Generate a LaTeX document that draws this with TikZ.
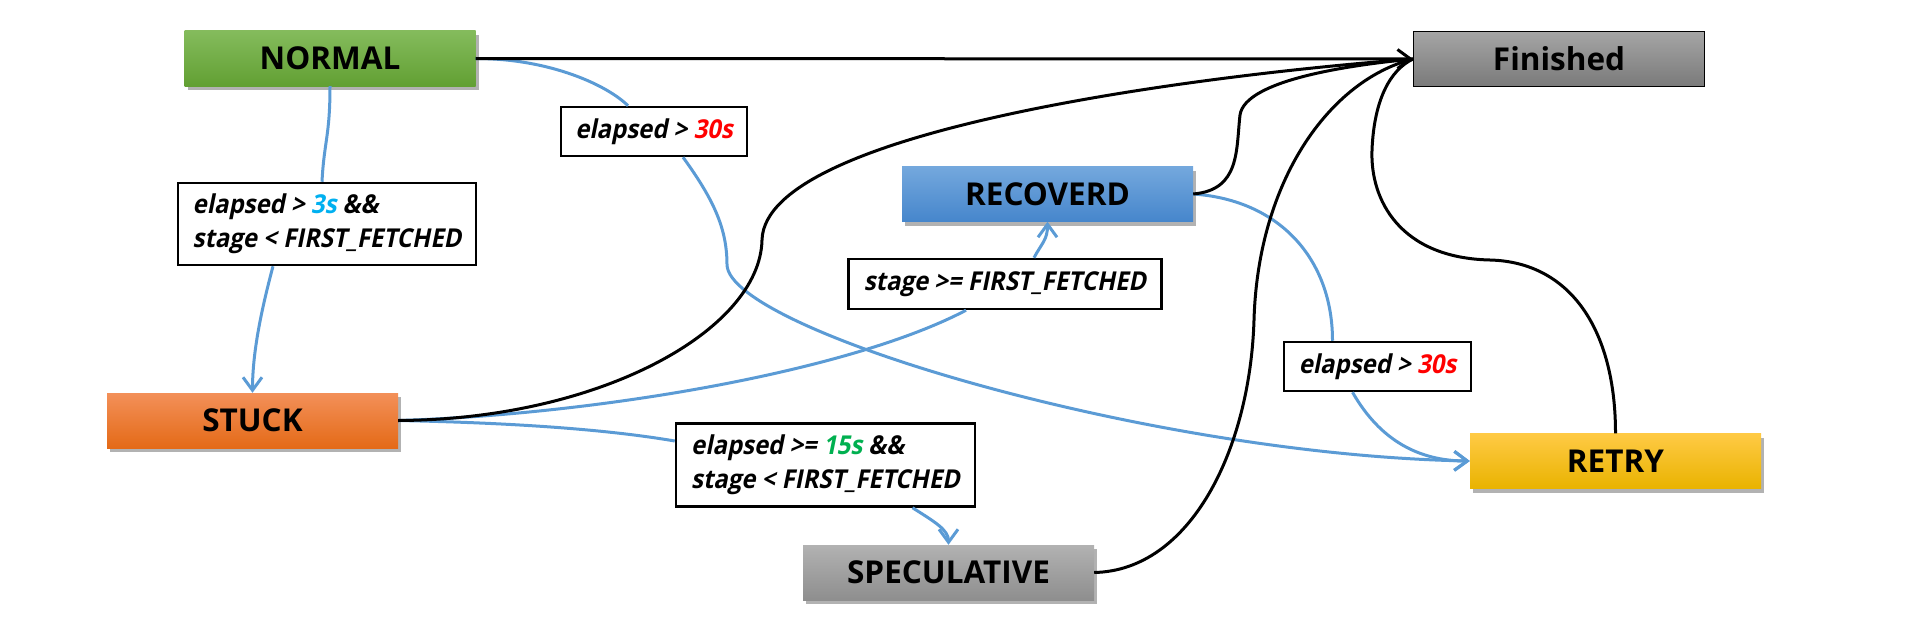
\documentclass[tikz,border=0pt]{standalone}
\usepackage{fontspec}
\setmainfont{Open Sans}
\newfontfamily\lblfont{Open Sans}[FakeSlant=0.2,FakeStretch=0.92]
\usetikzlibrary{arrows.meta,shadows}
\definecolor{cblue}{HTML}{5B9BD5}
\definecolor{ccyan}{HTML}{00B0F0}
\definecolor{cred}{HTML}{FF0000}
\definecolor{cgreen}{HTML}{00B050}
\definecolor{gA}{HTML}{84BB5C}\definecolor{gB}{HTML}{70AD47}\definecolor{gC}{HTML}{62A033}
\definecolor{fA}{HTML}{A5A5A5}\definecolor{fC}{HTML}{7A7A7A}
\definecolor{bA}{HTML}{74A8DD}\definecolor{bC}{HTML}{4686CC}
\definecolor{oA}{HTML}{F39059}\definecolor{oB}{HTML}{F27C2A}\definecolor{oC}{HTML}{E46A17}
\definecolor{sA}{HTML}{B2B2B2}\definecolor{sC}{HTML}{8E8E8E}
\definecolor{yA}{HTML}{FFCA45}\definecolor{yB}{HTML}{FFC000}\definecolor{yC}{HTML}{E9B300}
\begin{document}
\begin{tikzpicture}[x=1pt,y=-1pt,
  state/.style={minimum width=291pt,minimum height=55pt,inner sep=0pt,
    font=\fontsize{31.5}{36}\selectfont\bfseries,text=black},
  shadowed/.style={drop shadow={shadow xshift=3pt,shadow yshift=-4pt,opacity=0.3,fill=black}},
  cond/.style={draw=black,line width=2.5pt,fill=white,inner sep=0pt,align=left,
    font=\lblfont\fontsize{26}{34}\selectfont\bfseries},
  bl/.style={draw=cblue,line width=3pt},
  bk/.style={draw=black,line width=3pt},
  tip/.style={-{Straight Barb[length=13pt,width=19pt]}}]
\useasboundingbox (0,0) rectangle (1910,634);
% states
\node[state,shadowed,top color=gA,middle color=gB,bottom color=gC] (normal) at (330,58.5) {NORMAL};
\node[state,draw=black,line width=1pt,top color=fA,bottom color=fC] (fin) at (1559,59) {Finished};
\node[state,shadowed,top color=bA,bottom color=bC] (recov) at (1047.5,194) {RECOVERD};
\node[state,shadowed,top color=oA,middle color=oB,bottom color=oC] (stuck) at (252.5,420.5) {STUCK};
\node[state,shadowed,top color=sA,bottom color=sC] (spec) at (948.5,572.5) {SPECULATIVE};
\node[state,shadowed,top color=yA,middle color=yB,bottom color=yC] (retry) at (1615.5,461) {RETRY};
% conditions
\node[cond,minimum width=298pt,minimum height=82pt] (l1) at (327,224) {elapsed > \textcolor{ccyan}{3s} \&\&\\stage < FIRST\_FETCHED};
\node[cond,minimum width=186pt,minimum height=49pt] (l2) at (654,131.5) {elapsed > \textcolor{cred}{30s}};
\node[cond,minimum width=313pt,minimum height=50pt] (l3) at (1005,284) {stage >= FIRST\_FETCHED};
\node[cond,minimum width=299pt,minimum height=83pt] (l4) at (825.5,465) {elapsed >= \textcolor{cgreen}{15s} \&\&\\stage < FIRST\_FETCHED};
\node[cond,minimum width=187pt,minimum height=49pt] (l5) at (1377.5,366.5) {elapsed > \textcolor{cred}{30s}};
% helper coordinates
\coordinate (k2) at (727,265);
\coordinate (k7) at (762,240);
\coordinate (k8) at (1240,115);
\coordinate (k9) at (1254,320);
\coordinate (k10a) at (1490,260);
\coordinate (k10b) at (1372,150);
% blue transitions
\draw[bl] (normal.south) .. controls +(0,50) and +(2,-40) .. ([xshift=-5pt]l1.north);
\draw[bl,tip] ([xshift=-54pt]l1.south) .. controls +(-12,45) and +(0,-40) .. (stuck.north);
\draw[bl] (normal.east) .. controls +(75,0) and +(-20,-20) .. ([xshift=-26pt]l2.north);
\draw[bl,tip] ([xshift=29pt]l2.south) .. controls +(32,44) and +(0,-35) .. (k2)
   .. controls +(3,65) and +(-320,-6) .. (retry.west);
\draw[bl] (stuck.east) .. controls +(200,-6) and +(-116,61) .. ([xshift=-39pt]l3.south);
\draw[bl,tip] ([xshift=29pt]l3.north) .. controls +(8,-15) and +(0,18) .. (recov.south);
\draw[bl] (stuck.east) .. controls +(100,2) and +(-76,-13) .. ([yshift=24pt]l4.west);
\draw[bl,tip] ([xshift=87pt]l4.south) .. controls +(22,14) and +(0,-15) .. (spec.north);
\draw[bl] (recov.east) .. controls +(87,6) and +(0,-81) .. ([xshift=-45pt]l5.north);
\draw[bl,tip] ([xshift=-25pt]l5.south) .. controls +(28,49) and +(-50,0) .. (retry.west);
% black transitions to Finished
\draw[bk,tip] (normal.east) -- (fin.west);
\draw[bk] (stuck.east) .. controls +(202,-1) and +(-2,90) .. (k7)
   .. controls +(3,-110) and +(-213,16) .. (fin.west);
\draw[bk] (recov.east) .. controls +(47,-4) and +(-4,35) .. (k8)
   .. controls +(5,-35) and +(-63,6) .. (fin.west);
\draw[bk] (spec.east) .. controls +(96,-2) and +(-4,130) .. (k9)
   .. controls +(4,-140) and +(-83,21) .. (fin.west);
\draw[bk] (retry.north) .. controls +(0,-104) and +(80,2) .. (k10a)
   .. controls +(-90,-2) and +(-2,50) .. (k10b)
   .. controls +(2,-50) and +(-23,11) .. (fin.west);
\end{tikzpicture}
\end{document}
